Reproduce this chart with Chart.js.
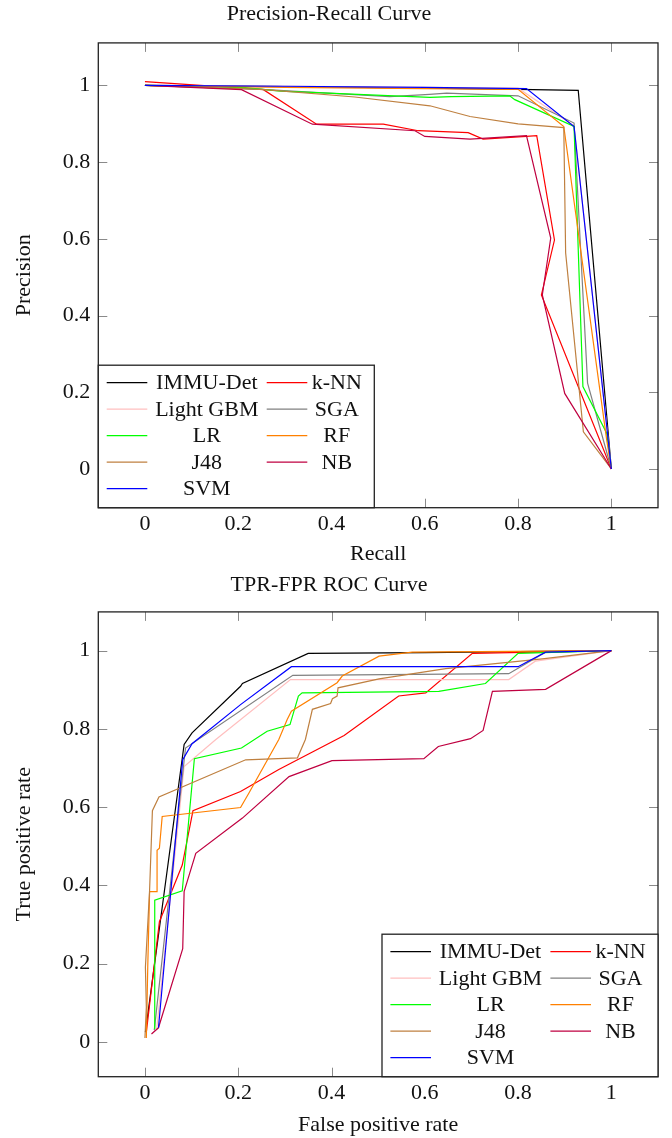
<!DOCTYPE html>
<html>
<head>
<meta charset="utf-8">
<script src="https://cdn.jsdelivr.net/npm/chart.js@4.4.1/dist/chart.umd.min.js"></script>
<style>
  body { margin: 0; background: #fff; }
  .box { position: relative; width: 672px; height: 569px; }
</style>
</head>
<body>
<div class="box"><canvas id="pr"></canvas></div>
<div class="box"><canvas id="roc"></canvas></div>
<script>
// method names, legend order (2 columns, row by row)
const methods = ['IMMU-Det', 'k-NN', 'Light GBM', 'SGA', 'LR', 'RF', 'J48', 'NB', 'SVM'];
const colors = ['#000000', '#ff0000', '#ffbfbf', '#808080', '#00ff00', '#ff8000', '#bf8040', '#bf0040', '#0000ff'];

const tickValues = [0, 0.2, 0.4, 0.6, 0.8, 1];
const tickLabels = ['0', '0.2', '0.4', '0.6', '0.8', '1'];

// Precision-Recall curve: [recall, precision]
const prImmu = [[0, 1], [0.25, 0.998], [0.6, 0.993], [0.8, 0.99], [0.929, 0.987], [1, 0]];
const prKnn = [[0, 1.01], [0.254, 0.989], [0.368, 0.899], [0.511, 0.899], [0.586, 0.882], [0.693, 0.877], [0.725, 0.86], [0.818, 0.867], [0.84, 0.869], [0.878, 0.597], [0.85, 0.454], [1, 0]];
const prGbm = [[0, 1], [0.4, 0.997], [0.8, 0.993], [0.92, 0.895], [1, 0]];
const prSga = [[0, 1], [0.25, 0.99], [0.525, 0.971], [0.61, 0.977], [0.647, 0.98], [0.8, 0.973], [0.92, 0.902], [0.949, 0.224], [1, 0]];
const prLr = [[0, 1], [0.21, 0.995], [0.29, 0.985], [0.611, 0.969], [0.657, 0.971], [0.782, 0.973], [0.793, 0.963], [0.92, 0.893], [0.939, 0.215], [0.99, 0.093], [1, 0]];
const prRf = [[0, 1], [0.3, 0.995], [0.6, 0.992], [0.8, 0.99], [0.898, 0.893], [0.99, 0.076], [1, 0]];
const prJ48 = [[0, 1], [0.25, 0.99], [0.45, 0.97], [0.611, 0.947], [0.697, 0.919], [0.8, 0.9], [0.898, 0.89], [0.902, 0.563], [0.94, 0.097], [1, 0]];
const prNb = [[0, 1], [0.207, 0.989], [0.359, 0.899], [0.579, 0.882], [0.6, 0.867], [0.697, 0.86], [0.818, 0.869], [0.87, 0.602], [0.852, 0.454], [0.9, 0.197], [1, 0]];
const prSvm = [[0, 1], [0.3, 0.998], [0.6, 0.995], [0.818, 0.992], [0.92, 0.893], [1, 0]];

// ROC curve: [false positive rate, true positive rate]
const rocImmu = [[0.001, 0.025], [0.084, 0.76], [0.101, 0.79], [0.205, 0.909], [0.209, 0.916], [0.35, 0.993], [0.6, 0.995], [1, 1]];
const rocKnn = [[0.003, 0.025], [0.031, 0.307], [0.08, 0.452], [0.103, 0.591], [0.205, 0.64], [0.287, 0.696], [0.427, 0.783], [0.544, 0.884], [0.602, 0.892], [0.702, 0.993], [1, 1]];
const rocGbm = [[0.025, 0.03], [0.084, 0.704], [0.152, 0.773], [0.312, 0.926], [0.78, 0.926], [0.837, 0.973], [1, 1]];
const rocSga = [[0.02, 0.03], [0.087, 0.751], [0.317, 0.937], [0.78, 0.941], [0.859, 0.996], [1, 1]];
const rocLr = [[0.021, 0.033], [0.021, 0.362], [0.08, 0.386], [0.106, 0.724], [0.207, 0.751], [0.262, 0.794], [0.311, 0.811], [0.329, 0.884], [0.337, 0.892], [0.63, 0.896], [0.73, 0.916], [0.8, 0.993], [1, 1]];
const rocRf = [[0.003, 0.01], [0.006, 0.19], [0.01, 0.384], [0.026, 0.384], [0.026, 0.49], [0.031, 0.495], [0.037, 0.576], [0.205, 0.599], [0.223, 0.636], [0.287, 0.773], [0.305, 0.824], [0.314, 0.845], [0.412, 0.918], [0.423, 0.935], [0.502, 0.986], [0.573, 0.996], [1, 1]];
const rocJ48 = [[0, 0.01], [0.003, 0.089], [0.001, 0.191], [0.01, 0.388], [0.016, 0.591], [0.03, 0.626], [0.216, 0.721], [0.327, 0.726], [0.344, 0.773], [0.359, 0.85], [0.398, 0.865], [0.402, 0.877], [0.412, 0.884], [0.414, 0.905], [0.502, 0.928], [0.645, 0.954], [0.852, 0.979], [1, 1]];
const rocNb = [[0.014, 0.02], [0.029, 0.036], [0.081, 0.238], [0.084, 0.384], [0.109, 0.482], [0.209, 0.572], [0.309, 0.678], [0.401, 0.719], [0.598, 0.724], [0.629, 0.755], [0.698, 0.775], [0.725, 0.796], [0.745, 0.896], [0.859, 0.901], [1, 1]];
const rocSvm = [[0.029, 0.036], [0.081, 0.721], [0.101, 0.762], [0.205, 0.862], [0.314, 0.959], [0.8, 0.959], [0.859, 0.996], [1, 1]];

const FONT = "'Liberation Serif', 'Times New Roman', serif";

// axis frame with inward ticks on all four sides
const framePlugin = {
    id: 'frame',
    afterDatasetsDraw(chart) {
        const { ctx, chartArea: a, scales: { x, y } } = chart;
        ctx.save();
        ctx.strokeStyle = '#8a8a8a';
        ctx.lineWidth = 1;
        ctx.beginPath();
        x.ticks.forEach(t => {
            const px = Math.round(x.getPixelForValue(t.value)) + 0.5;
            ctx.moveTo(px, a.top); ctx.lineTo(px, a.top + 9);
            ctx.moveTo(px, a.bottom); ctx.lineTo(px, a.bottom - 9);
        });
        y.ticks.forEach(t => {
            const py = Math.round(y.getPixelForValue(t.value)) + 0.5;
            ctx.moveTo(a.left, py); ctx.lineTo(a.left + 9, py);
            ctx.moveTo(a.right, py); ctx.lineTo(a.right - 9, py);
        });
        ctx.stroke();
        ctx.strokeStyle = '#222';
        ctx.lineWidth = 1.3;
        ctx.strokeRect(a.left, a.top, a.width, a.height);
        ctx.restore();
    }
};

// pgfplots-like legend box inside the plot, in a bottom corner
const boxLegend = {
    id: 'boxLegend',
    afterDraw(chart, args, opts) {
        const { ctx, chartArea: a } = chart;
        const w = 276, h = 142.5;
        const L = opts.corner === 'left' ? a.left : a.right - w;
        const T = a.bottom - h;
        ctx.save();
        ctx.fillStyle = '#fff';
        ctx.fillRect(L, T, w, h);
        ctx.strokeStyle = '#222';
        ctx.lineWidth = 1.3;
        ctx.strokeRect(L, T, w, h);
        ctx.font = '22px ' + FONT;
        ctx.textAlign = 'center';
        ctx.textBaseline = 'middle';
        chart.data.datasets.forEach((ds, i) => {
            const col = i % 2, row = Math.floor(i / 2);
            const cy = T + 17.5 + row * 26.5;
            const lx = L + 8.4 + col * 160;
            ctx.strokeStyle = ds.borderColor;
            ctx.lineWidth = 1.2;
            ctx.beginPath();
            ctx.moveTo(lx, cy); ctx.lineTo(lx + 40.6, cy);
            ctx.stroke();
            ctx.fillStyle = '#111';
            ctx.fillText(ds.label, L + 108.5 + col * 130, cy + 1);
        });
        ctx.restore();
    }
};

function makeDatasets(series) {
    return series.map((pts, i) => ({
        label: methods[i],
        data: pts.map(p => ({ x: p[0], y: p[1] })),
        borderColor: colors[i],
        backgroundColor: colors[i],
        borderWidth: 1.2,
        pointRadius: 0,
        tension: 0,
        fill: false,
        order: -i
    }));
}

function setTicks(scale) {
    scale.ticks = tickValues.map(v => ({ value: v }));
}

function makeChart(id, series, cfg) {
    return new Chart(document.getElementById(id), {
        type: 'line',
        data: { datasets: makeDatasets(series) },
        options: {
            responsive: true,
            maintainAspectRatio: false,
            animation: false,
            layout: { padding: { left: 0, right: 14, top: 0, bottom: 0 } },
            plugins: {
                legend: { display: false },
                tooltip: { enabled: false },
                title: {
                    display: true,
                    text: cfg.title,
                    color: '#111',
                    font: { family: FONT, size: 22, weight: 'normal' },
                    padding: { top: cfg.titleTop, bottom: 42.9 - cfg.titleTop - 26.4 }
                },
                boxLegend: { corner: cfg.corner }
            },
            scales: {
                x: {
                    type: 'linear',
                    min: -0.1,
                    max: 1.1,
                    afterBuildTicks: setTicks,
                    afterFit: s => { s.height = 61.3; },
                    grid: { display: false, drawTicks: false },
                    border: { display: false },
                    ticks: {
                        padding: 3,
                        color: '#111',
                        font: { family: FONT, size: 22 },
                        callback: (v, i) => tickLabels[i]
                    },
                    title: {
                        display: true,
                        text: cfg.xTitle,
                        color: '#111',
                        font: { family: FONT, size: 22 },
                        padding: { top: 0, bottom: cfg.xTitleBottom }
                    }
                },
                y: {
                    type: 'linear',
                    min: cfg.yMin,
                    max: cfg.yMax,
                    afterBuildTicks: setTicks,
                    afterFit: s => { s.width = 98.3; },
                    grid: { display: false, drawTicks: false },
                    border: { display: false },
                    ticks: {
                        padding: 8,
                        color: '#111',
                        font: { family: FONT, size: 22 },
                        callback: (v, i) => tickLabels[i]
                    },
                    title: {
                        display: true,
                        text: cfg.yTitle,
                        color: '#111',
                        font: { family: FONT, size: 22 },
                        padding: { top: 11, bottom: 0 }
                    }
                }
            }
        },
        plugins: [framePlugin, boxLegend]
    });
}

makeChart('pr', [prImmu, prKnn, prGbm, prSga, prLr, prRf, prJ48, prNb, prSvm], {
    title: 'Precision-Recall Curve',
    titleTop: 0.8,
    xTitle: 'Recall',
    xTitleBottom: 2,
    yTitle: 'Precision',
    yMin: -0.101,
    yMax: 1.111,
    corner: 'left'
});

makeChart('roc', [rocImmu, rocKnn, rocGbm, rocSga, rocLr, rocRf, rocJ48, rocNb, rocSvm], {
    title: 'TPR-FPR ROC Curve',
    titleTop: 2.8,
    xTitle: 'False positive rate',
    xTitleBottom: 0,
    yTitle: 'True positive rate',
    yMin: -0.089,
    yMax: 1.099,
    corner: 'right'
});
</script>
</body>
</html>
